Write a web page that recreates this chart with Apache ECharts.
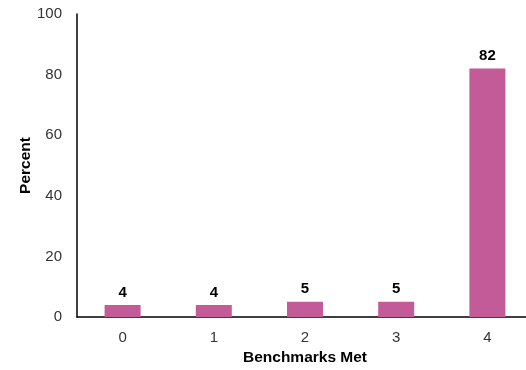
<!DOCTYPE html>
<html>
<head>
<meta charset="utf-8">
<script src="https://cdn.jsdelivr.net/npm/echarts@6/dist/echarts.min.js"></script>
<style>
html,body{margin:0;padding:0;background:#fff;}
#chart{width:526px;height:370px;}
</style>
</head>
<body>
<div id="chart"></div>
<script>
var categories = ['0', '1', '2', '3', '4'];
var percentValues = [4, 4, 5, 5, 82];
var yTicks = [0, 20, 40, 60, 80, 100];

var chart = echarts.init(document.getElementById('chart'), null, {renderer: 'canvas'});
var font = '"Liberation Sans", Arial, Helvetica, sans-serif';
chart.setOption({
  animation: false,
  backgroundColor: '#ffffff',
  grid: {left: 77, top: 14, width: 456, height: 303, containLabel: false, outerBoundsMode: 'none'},
  xAxis: {
    type: 'category',
    data: categories,
    name: 'Benchmarks Met',
    nameLocation: 'middle',
    nameGap: 33,
    nameMoveOverlap: false,
    nameTextStyle: {fontFamily: font, fontSize: 15.5, fontWeight: 'bold', color: '#000'},
    axisLine: {lineStyle: {color: '#000', width: 1.5}},
    axisTick: {show: false},
    axisLabel: {fontFamily: font, fontSize: 15, color: '#333', margin: 13}
  },
  yAxis: {
    type: 'value',
    min: yTicks[0],
    max: yTicks[yTicks.length - 1],
    interval: 20,
    name: 'Percent',
    nameLocation: 'middle',
    nameGap: 43,
    nameMoveOverlap: false,
    nameTextStyle: {fontFamily: font, fontSize: 15.5, fontWeight: 'bold', color: '#000'},
    axisLine: {show: true, lineStyle: {color: '#000', width: 1.5}},
    axisTick: {show: false},
    splitLine: {show: false},
    axisLabel: {fontFamily: font, fontSize: 15, color: '#333', margin: 15, padding: [3, 0, 0, 0]}
  },
  series: [{
    type: 'bar',
    data: percentValues,
    barWidth: 36,
    itemStyle: {color: '#c25b97'},
    label: {
      show: true,
      position: 'top',
      distance: 5,
      fontFamily: font,
      fontSize: 15,
      fontWeight: 'bold',
      color: '#000'
    }
  }]
});
</script>
</body>
</html>
